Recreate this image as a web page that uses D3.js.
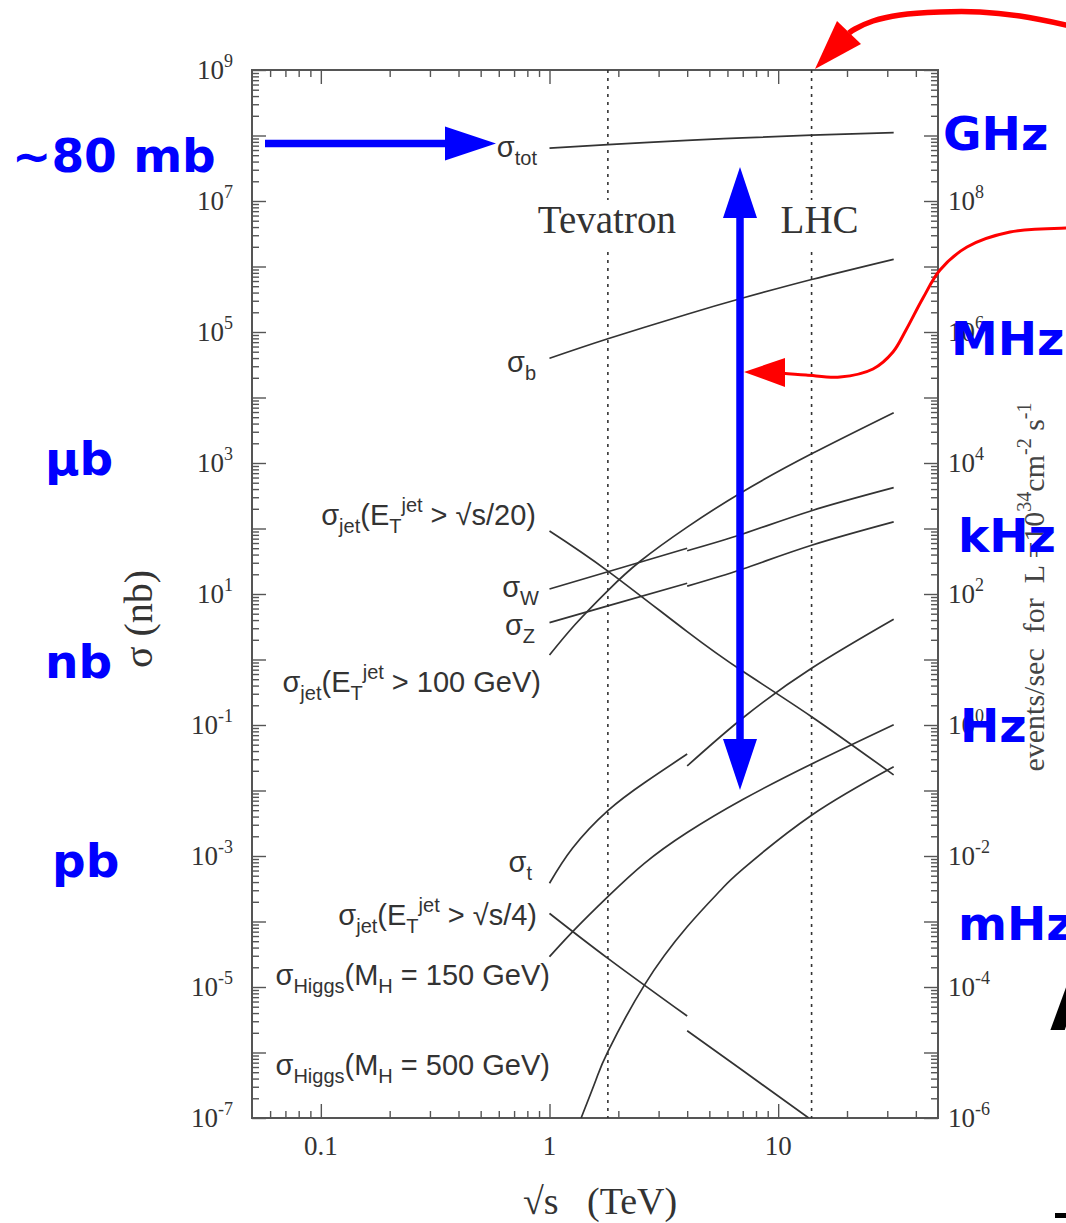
<!DOCTYPE html>
<html>
<head>
<meta charset="utf-8">
<script src="https://cdn.jsdelivr.net/npm/d3@7"></script>
<style>
  html, body { margin: 0; padding: 0; background: #ffffff; overflow: hidden; }
  svg { display: block; }
  text { white-space: pre; }
</style>
</head>
<body>
<script>
// ---------------- DATA ----------------
// sqrt(s) in TeV, sigma in nb
const sTot   = [1, 1.8, 4, 7, 14, 32];
const sigTot = [6.4e7, 7.24e7, 8.4e7, 9.19e7, 1.01e8, 1.11e8];

const sB   = [1, 1.8, 4, 7, 14, 32];
const sigB = [3.96e4, 7.87e4, 1.87e5, 3.3e5, 6.34e5, 1.29e6];

const sJet20   = [1, 1.8, 4, 7, 14, 32];
const sigJet20 = [91.6, 22.4, 2.66, 0.66, 0.134, 0.0173];

const sWppbar   = [1, 1.8, 4];
const sigWppbar = [11.9, 21.9, 49.9];
const sWpp      = [4, 7, 14, 32];
const sigWpp    = [45.8, 82.4, 187, 420];

const sZppbar   = [1, 1.8, 4];
const sigZppbar = [3.65, 6.6, 14.6];
const sZpp      = [4, 7, 14, 32];
const sigZpp    = [13.2, 24.1, 55.4, 126];

const sJet100   = [1, 1.3, 1.8, 2.5, 4, 7, 14, 32];
const sigJet100 = [1.17, 3.48, 11.3, 31.9, 105, 365, 1380, 5860];

const sTppbar   = [1, 1.26, 1.8, 2.64, 4];
const sigTppbar = [3.83e-4, 1.31e-3, 4.92e-3, 0.0136, 0.036];
const sTpp      = [4, 7, 14, 32];
const sigTpp    = [0.0237, 0.128, 0.734, 4.11];

const sJet4ppbar   = [1, 1.8, 4];
const sigJet4ppbar = [1.33e-4, 2.74e-5, 3.6e-6];
const sJet4pp      = [4, 7, 13.6];
const sigJet4pp    = [2.15e-6, 5.3e-7, 1.0e-7];

const sH150   = [1, 1.3, 1.8, 2.6, 4, 7, 14, 32];
const sigH150 = [2.9e-5, 7.76e-5, 2.39e-4, 7.71e-4, 2.28e-3, 7.28e-3, 0.0254, 0.101];

const sH500   = [1.375, 1.6, 1.8, 2.6, 4, 5.6, 7, 14, 32];
const sigH500 = [1.0e-7, 3.9e-7, 1.03e-6, 1.07e-5, 8.3e-5, 3.0e-4, 6.3e-4, 4.2e-3, 0.0231];

const colliderNames  = ["Tevatron", "LHC"];
const colliderEnergy = [1.8, 14];

const xMajorTicks = [0.1, 1, 10];
const xMinorTicks = [0.06, 0.07, 0.08, 0.09, 0.2, 0.3, 0.4, 0.5, 0.6, 0.7, 0.8, 0.9,
                     2, 3, 4, 5, 6, 7, 8, 9, 20, 30, 40];
const xTickLabels = ["0.1", "1", "10"];
const yLeftLabelExp  = [9, 7, 5, 3, 1, -1, -3, -5, -7];
const yRightLabelExp = [8, 6, 4, 2, 0, -2, -4, -6];

// curve labels: [text, mode] mode 0 normal, 1 subscript, 2 superscript
const curveLabels = [
  [["σ",0],["tot",1]],
  [["σ",0],["b",1]],
  [["σ",0],["jet",1],["(E",0],["T",1],["jet",2],[" > √s/20)",0]],
  [["σ",0],["W",1]],
  [["σ",0],["Z",1]],
  [["σ",0],["jet",1],["(E",0],["T",1],["jet",2],[" > 100 GeV)",0]],
  [["σ",0],["t",1]],
  [["σ",0],["jet",1],["(E",0],["T",1],["jet",2],[" > √s/4)",0]],
  [["σ",0],["Higgs",1],["(M",0],["H",1],[" = 150 GeV)",0]],
  [["σ",0],["Higgs",1],["(M",0],["H",1],[" = 500 GeV)",0]]
];
// label anchor (end x, baseline y) in pixels
const curveLabelPos = [[537,157],[536,372],[536,525],[539,597],[535,635],[541,692],[532,872],[537,925],[550,985],[550,1075]];

const zip = (a, b) => a.map((v, i) => [v, b[i]]);
const segments = [
  zip(sTot, sigTot), zip(sB, sigB), zip(sJet20, sigJet20),
  zip(sWppbar, sigWppbar), zip(sWpp, sigWpp),
  zip(sZppbar, sigZppbar), zip(sZpp, sigZpp),
  zip(sJet100, sigJet100),
  zip(sTppbar, sigTppbar), zip(sTpp, sigTpp),
  zip(sJet4ppbar, sigJet4ppbar), zip(sJet4pp, sigJet4pp),
  zip(sH150, sigH150), zip(sH500, sigH500)
];

// ---------------- LAYOUT ----------------
const W = 1066, H = 1223;
const L = 252, R = 938, T = 70, B = 1118;
const ink = "#333";
const frameInk = "#555";
const serif = "'Liberation Serif', 'Times New Roman', serif";
const sans = "'Liberation Sans', Arial, Helvetica, sans-serif";
const bold = "'DejaVu Sans', Verdana, sans-serif";

const svg = d3.select("body").append("svg").attr("width", W).attr("height", H);

const x = d3.scaleLog().domain([0.05, 50]).range([L, R]);
const y = d3.scaleLog().domain([1e-7, 1e9]).range([B, T]);
const y2 = d3.scaleLog().domain([1e-6, 1e10]).range([B, T]);

const yMajor = d3.range(-7, 10).map(k => Math.pow(10, k));
const yMinor = [];
for (let k = -7; k < 9; k++) for (let m = 2; m <= 9; m++) yMinor.push(m * Math.pow(10, k));

function styleAxis(g) {
  g.select(".domain").remove();
  g.selectAll(".tick line").attr("stroke", frameInk).attr("stroke-width", 1.4);
  g.selectAll(".tick text").remove();
}

// axes ticks (inward)
svg.append("g").attr("transform", `translate(${L},0)`).call(d3.axisLeft(y).tickValues(yMajor).tickSize(-14)).call(styleAxis);
svg.append("g").attr("transform", `translate(${L},0)`).call(d3.axisLeft(y).tickValues(yMinor).tickSize(-7)).call(styleAxis);
svg.append("g").attr("transform", `translate(${R},0)`).call(d3.axisRight(y).tickValues(yMajor).tickSize(-14)).call(styleAxis);
svg.append("g").attr("transform", `translate(${R},0)`).call(d3.axisRight(y).tickValues(yMinor).tickSize(-7)).call(styleAxis);
svg.append("g").attr("transform", `translate(0,${B})`).call(d3.axisBottom(x).tickValues(xMajorTicks).tickSize(-14)).call(styleAxis);
svg.append("g").attr("transform", `translate(0,${B})`).call(d3.axisBottom(x).tickValues(xMinorTicks).tickSize(-7)).call(styleAxis);
svg.append("g").attr("transform", `translate(0,${T})`).call(d3.axisTop(x).tickValues(xMajorTicks).tickSize(-14)).call(styleAxis);
svg.append("g").attr("transform", `translate(0,${T})`).call(d3.axisTop(x).tickValues(xMinorTicks).tickSize(-7)).call(styleAxis);

// frame
svg.append("rect").attr("x", L).attr("y", T).attr("width", R - L).attr("height", B - T)
  .attr("fill", "none").attr("stroke", frameInk).attr("stroke-width", 2);

// tick labels
function powLabel(px, py, exp, anchor) {
  const t = svg.append("text").attr("x", px).attr("y", py + 9)
    .attr("font-family", serif).attr("font-size", 27).attr("fill", ink).attr("text-anchor", anchor);
  t.append("tspan").text("10");
  t.append("tspan").attr("dy", -12).attr("font-size", 18).text(String(exp));
}
yLeftLabelExp.forEach(e => powLabel(233, y(Math.pow(10, e)), e, "end"));
yRightLabelExp.forEach(e => powLabel(948, y2(Math.pow(10, e)), e, "start"));
xMajorTicks.forEach((v, i) => {
  svg.append("text").attr("x", x(v)).attr("y", B + 37).attr("text-anchor", "middle")
    .attr("font-family", serif).attr("font-size", 27).attr("fill", ink).text(xTickLabels[i]);
});

// axis titles
svg.append("text").attr("x", 523).attr("y", 1214).attr("font-family", serif).attr("font-size", 38).attr("fill", ink).text("√s");
svg.append("text").attr("x", 587).attr("y", 1214).attr("font-family", serif).attr("font-size", 38).attr("fill", ink).text("(TeV)");
svg.append("text").attr("transform", "translate(152,619) rotate(-90)").attr("text-anchor", "middle")
  .attr("font-family", serif).attr("font-size", 40).attr("fill", ink).text("σ (nb)");
{
  const t = svg.append("text").attr("transform", "translate(1044,587) rotate(-90)").attr("text-anchor", "middle")
    .attr("font-family", serif).attr("font-size", 30).attr("fill", "#444");
  t.append("tspan").text("events/sec  for  L =10");
  t.append("tspan").attr("dy", -13).attr("font-size", 20).text("34");
  t.append("tspan").attr("dy", 13).text("cm");
  t.append("tspan").attr("dy", -13).attr("font-size", 20).text("-2");
  t.append("tspan").attr("dy", 13).text(" s");
  t.append("tspan").attr("dy", -13).attr("font-size", 20).text("-1");
}

// collider dotted lines
const gapTop = 200, gapBot = 252;
colliderEnergy.forEach((e, i) => {
  [[T, gapTop], [gapBot, B]].forEach(([a, b]) => {
    svg.append("line").attr("x1", x(e)).attr("x2", x(e)).attr("y1", a).attr("y2", b)
      .attr("stroke", ink).attr("stroke-width", 1.6).attr("stroke-dasharray", "3,5");
  });
});
svg.append("text").attr("x", x(colliderEnergy[0]) - 1).attr("y", 233).attr("text-anchor", "middle")
  .attr("font-family", serif).attr("font-size", 39).attr("fill", ink).text(colliderNames[0]);
svg.append("text").attr("x", x(colliderEnergy[1]) + 8).attr("y", 233).attr("text-anchor", "middle")
  .attr("font-family", serif).attr("font-size", 39).attr("fill", ink).text(colliderNames[1]);

// curves
svg.append("clipPath").attr("id", "plotclip").append("rect")
  .attr("x", L).attr("y", T).attr("width", R - L).attr("height", B - T);
const line = d3.line().x(d => x(d[0])).y(d => y(d[1])).curve(d3.curveNatural);
svg.append("g").attr("clip-path", "url(#plotclip)")
  .selectAll("path").data(segments).join("path")
  .attr("d", line).attr("fill", "none").attr("stroke", ink).attr("stroke-width", 1.7);

// curve labels
curveLabels.forEach((parts, i) => {
  const [px, py] = curveLabelPos[i];
  const t = svg.append("text").attr("x", px).attr("y", py).attr("text-anchor", "end")
    .attr("font-family", sans).attr("font-size", 29).attr("fill", ink);
  let cur = 0;
  parts.forEach(([s, m]) => {
    const target = m === 1 ? 8 : (m === 2 ? -13 : 0);
    const ts = t.append("tspan").attr("dy", target - cur).text(s);
    if (m) ts.attr("font-size", 20);
    cur = target;
  });
});

// ---------------- ANNOTATIONS ----------------
const blue = "#0000ff", red = "#ff0000";
// horizontal arrow to sigma_tot
svg.append("line").attr("x1", 265).attr("x2", 447).attr("y1", 143.5).attr("y2", 143.5)
  .attr("stroke", blue).attr("stroke-width", 7.5);
svg.append("path").attr("d", "M445,126.5 L496,143.5 L445,160.5 Z").attr("fill", blue);
// vertical double arrow
svg.append("line").attr("x1", 740).attr("x2", 740).attr("y1", 216).attr("y2", 741)
  .attr("stroke", blue).attr("stroke-width", 7.5);
svg.append("path").attr("d", "M740,167 L757,218 L723,218 Z").attr("fill", blue);
svg.append("path").attr("d", "M740,790 L757,739 L723,739 Z").attr("fill", blue);

// red arrows
const redLine = d3.line().curve(d3.curveCatmullRom.alpha(0.5));
svg.append("path").attr("d", redLine([[1070,26],[1066,25],[1020,16],[980,12],[940,12],[900,15],[873,21],[855,29],[849,33]]))
  .attr("fill", "none").attr("stroke", red).attr("stroke-width", 5.5);
svg.append("path").attr("d", "M815,69 L837,21 L861,44 Z").attr("fill", red);

svg.append("path").attr("d", redLine([[1070,228],[1066,228],[1010,232],[967,247],[940,270],[923,298],[906,330],[893,352],[873,369],[840,377],[806,375],[780,373]]))
  .attr("fill", "none").attr("stroke", red).attr("stroke-width", 3);
svg.append("path").attr("d", "M744,372 L785,358 L785,387 Z").attr("fill", red);

// blue unit labels
const unitLabels = [["~80 mb", 12, 172], ["μb", 45, 475], ["nb", 45, 678], ["pb", 52, 877],
                    ["GHz", 943, 150], ["MHz", 951, 355], ["kHz", 958, 552], ["Hz", 960, 742], ["mHz", 958, 940]];
unitLabels.forEach(([s, px, py]) => {
  svg.append("text").attr("x", px).attr("y", py).attr("font-family", bold).attr("font-weight", "bold")
    .attr("font-size", 47).attr("fill", blue).text(s);
});

// clipped glyphs of neighbouring slide text
svg.append("text").attr("x", 1050).attr("y", 1030).attr("font-family", bold).attr("font-weight", "bold")
  .attr("font-size", 76).attr("fill", "#000").text("A");
svg.append("rect").attr("x", 1055).attr("y", 1213).attr("width", 11).attr("height", 5).attr("fill", "#000");
</script>
</body>
</html>
